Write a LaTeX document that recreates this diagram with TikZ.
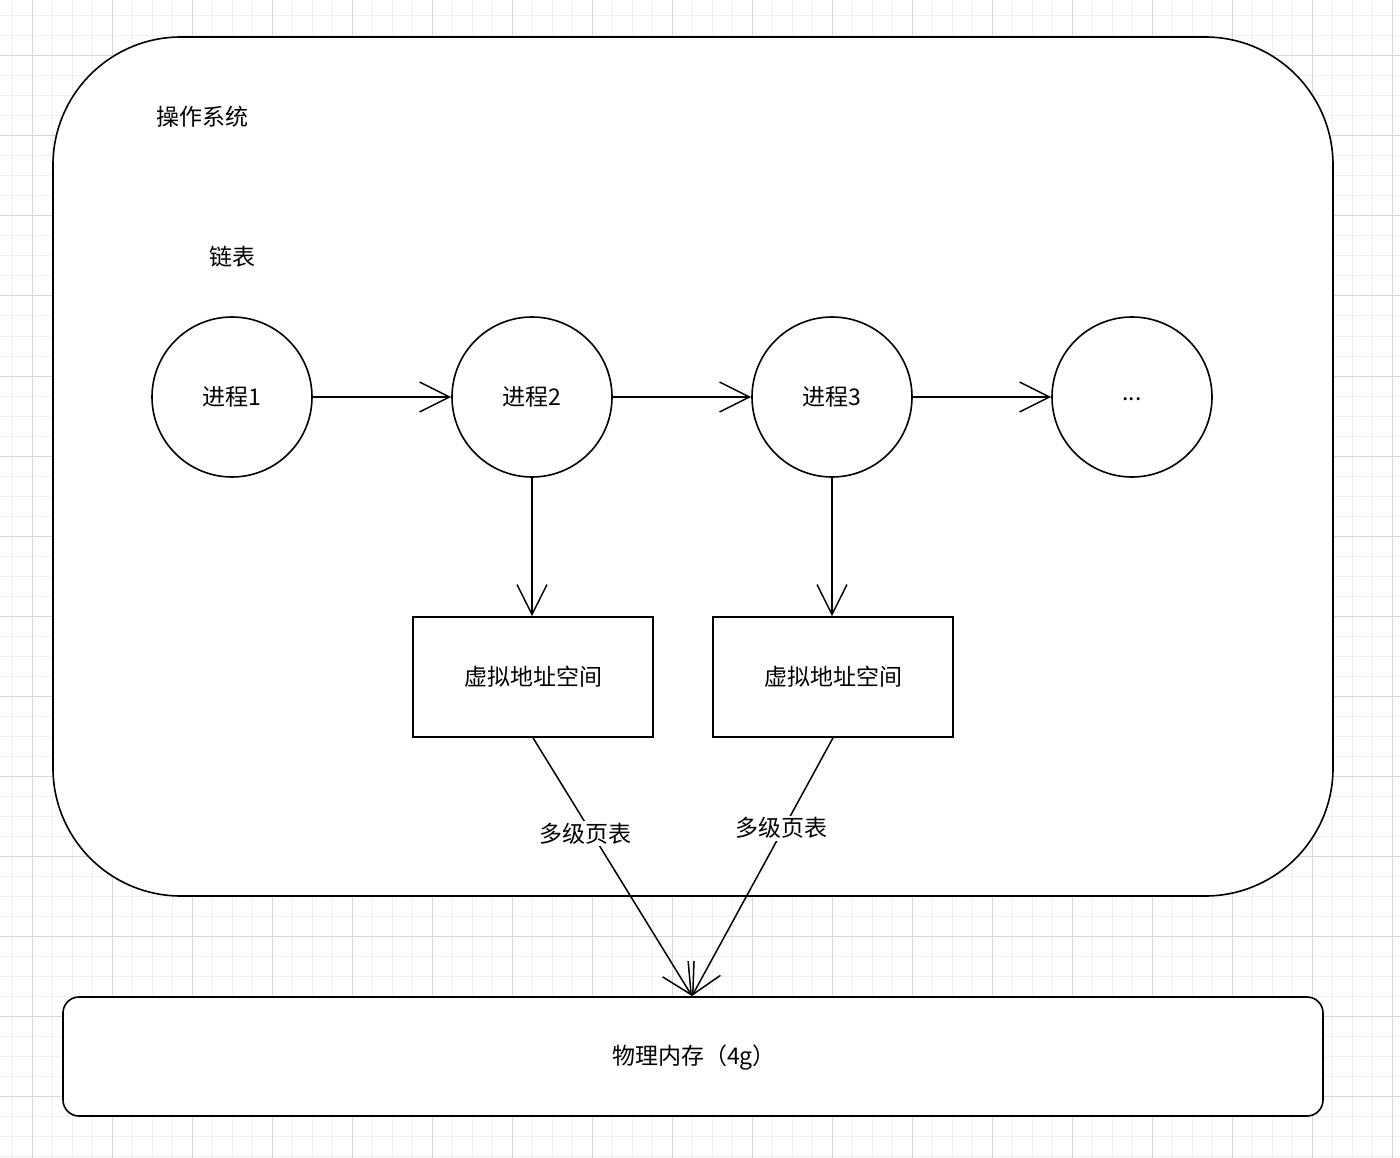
\documentclass[tikz,border=0pt]{standalone}
\usepackage{fontspec}
\setmainfont{Noto Sans CJK SC}
\usetikzlibrary{arrows.meta}
\definecolor{gridminor}{HTML}{F0F0F0}
\definecolor{gridmajor}{HTML}{D6D6D6}
\tikzset{
  minorline/.style={draw=gridminor, line width=1pt},
  majorline/.style={draw=gridmajor, line width=1pt},
  shapeline/.style={draw=black, line width=1.6pt, fill=white},
  circ/.style={shapeline, circle, minimum size=160pt, inner sep=0pt, font=\fontsize{23}{28}\selectfont},
  box/.style={shapeline, rectangle, minimum width=240pt, minimum height=120pt, inner sep=0pt, font=\fontsize{23}{28}\selectfont},
  txt/.style={inner sep=1pt, font=\fontsize{23}{28}\selectfont},
  lbl/.style={fill=white, inner sep=2pt, font=\fontsize{23}{28}\selectfont},
  arr/.style={draw=black, line width=1.5pt, -{Straight Barb[length=30pt,width=30pt]}},
}
\begin{document}
\begin{tikzpicture}[x=1pt,y=-1pt]
\useasboundingbox (0,0) rectangle (1400,1158);
\fill[white] (0,0) rectangle (1400,1158);
% grid
\foreach \x in {12,32,...,1392} \draw[minorline] (\x,0) -- (\x,1158);
\foreach \y in {16,36,...,1156} \draw[minorline] (0,\y) -- (1400,\y);
\foreach \x in {32,112,...,1392} \draw[majorline] (\x,0) -- (\x,1158);
\foreach \y in {56,136,...,1136} \draw[majorline] (0,\y) -- (1400,\y);

% containers
\node[shapeline, rectangle, rounded corners=128pt, minimum width=1280pt, minimum height=859pt, inner sep=0pt] (os) at (693,466.5) {};
\node[shapeline, rectangle, rounded corners=16pt, minimum width=1260pt, minimum height=119pt, inner sep=0pt] (mem) at (693,1056.5) {};
\node[txt] (memtext) at (694,1058) {物理内存（4g）};

% texts
\node[txt] (ostitle) at (202,117) {操作系统};
\node[txt] (listtitle) at (232,257) {链表};

% processes
\node[circ] (p1) at (232,397) {进程1};
\node[circ] (p2) at (532,397) {进程2};
\node[circ] (p3) at (832,397) {进程3};
\node[circ] (p4) at (1132,397) {};
\node[txt] (dots) at (1132,399) {...};

% virtual address spaces
\node[box] (v2) at (533,677) {虚拟地址空间};
\node[box] (v3) at (833,677) {虚拟地址空间};

\coordinate (tgt) at (692,996);

% arrows
\draw[arr] (p1) -- (p2);
\draw[arr] (p2) -- (p3);
\draw[arr] (p3) -- (p4);
\draw[arr] (p2.south) -- (v2.north -| p2.south);
\draw[arr] (p3.south) -- (v3.north -| p3.south);
\draw[arr] (v2.south) -- node[lbl, pos=0.37, xshift=-6pt] (l2) {多级页表} (tgt);
\draw[arr] (v3.south) -- node[lbl, pos=0.35, xshift=-2pt] (l3) {多级页表} (tgt);
\end{tikzpicture}
\end{document}
